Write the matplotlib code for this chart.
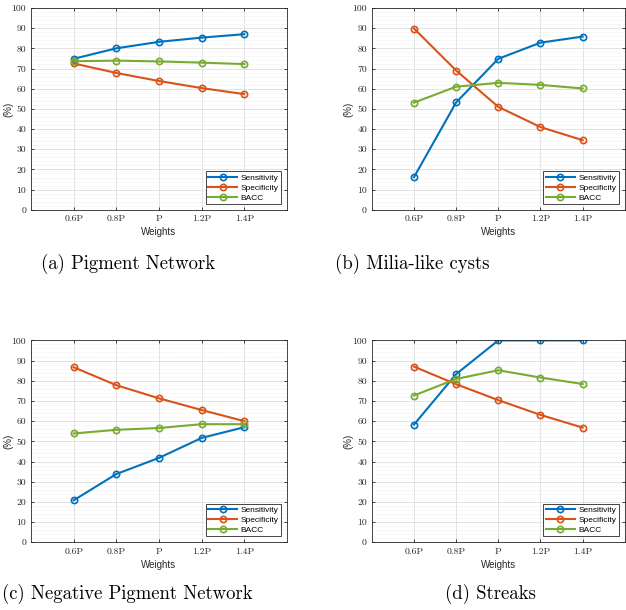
import numpy as np
import matplotlib
matplotlib.use("Agg")
import matplotlib.pyplot as plt
from matplotlib.ticker import MultipleLocator

# ---------------------------------------------------------------
# Data.
# ---------------------------------------------------------------
weights = ["0.6P", "0.8P", "P", "1.2P", "1.4P"]

sens_a = [74.8, 80.0, 83.2, 85.3, 87.0]
spec_a = [72.5, 67.8, 63.8, 60.3, 57.3]
bacc_a = [73.6, 73.9, 73.5, 72.9, 72.2]

sens_b = [16.2, 53.2, 74.8, 82.8, 85.8]
spec_b = [89.8, 69.0, 51.0, 41.0, 34.5]
bacc_b = [53.1, 61.0, 62.9, 61.9, 60.1]

sens_c = [20.8, 33.8, 41.8, 51.7, 57.0]
spec_c = [86.7, 77.8, 71.3, 65.5, 60.0]
bacc_c = [53.9, 55.7, 56.6, 58.5, 58.5]

sens_d = [58.3, 83.3, 100.0, 100.0, 100.0]
spec_d = [87.0, 78.3, 70.4, 63.1, 56.8]
bacc_d = [72.7, 80.9, 85.2, 81.6, 78.4]

captions = ["(a) Pigment Network", "(b) Milia-like cysts",
            "(c) Negative Pigment Network", "(d) Streaks"]

# MATLAB default colours
c_sens = "#0072BD"
c_spec = "#D95319"
c_bacc = "#77AC30"

serif = "cmr10"
sans = "Liberation Sans"

fig = plt.figure(figsize=(6.26, 6.10), dpi=100)

# axes boxes [left, bottom, width, height] in figure fraction
boxes = [
    [0.0495, 0.656, 0.409, 0.331],
    [0.594, 0.656, 0.404, 0.331],
    [0.0495, 0.111, 0.409, 0.331],
    [0.594, 0.111, 0.404, 0.331],
]
cap_pos = [(0.204, 0.568), (0.658, 0.568), (0.203, 0.027), (0.783, 0.027)]

panels = [(sens_a, spec_a, bacc_a), (sens_b, spec_b, bacc_b),
          (sens_c, spec_c, bacc_c), (sens_d, spec_d, bacc_d)]

x = np.arange(1, len(weights) + 1)

for box, (sens, spec, bacc), cap, cp in zip(boxes, panels, captions, cap_pos):
    ax = fig.add_axes(box)
    kw = dict(lw=1.5, marker="o", ms=4.5, mfc="none", mew=1.2)
    ax.plot(x, sens, color=c_sens, label="Sensitivity", **kw)
    ax.plot(x, spec, color=c_spec, label="Specificity", **kw)
    ax.plot(x, bacc, color=c_bacc, label="BACC", **kw)

    ax.set_xlim(0, 6)
    ax.set_ylim(0, 100)
    ax.set_xticks(x)
    ax.set_xticklabels(weights, fontfamily=serif, fontsize=7)
    ax.set_yticks(np.arange(0, 101, 10))
    ax.set_yticklabels([str(v) for v in range(0, 101, 10)], fontfamily=serif, fontsize=7)
    ax.yaxis.set_minor_locator(MultipleLocator(2))

    ax.grid(True, which="major", color="#e3e3e3", lw=0.7)
    ax.grid(True, which="minor", axis="y", color="#e0e0e0", lw=0.5, ls=(0, (1, 2)))
    ax.set_axisbelow(True)
    ax.tick_params(which="both", direction="in", length=2.5, width=0.6, colors="#262626",
                   top=True, right=True)
    ax.tick_params(which="minor", length=0)
    for s in ax.spines.values():
        s.set_color("#262626")
        s.set_linewidth(0.6)

    ax.set_xlabel("Weights", fontfamily=sans, fontsize=7, color="#262626", labelpad=3)
    ax.set_ylabel("(%)", fontfamily=sans, fontsize=7, color="#262626", labelpad=-1)

    leg = ax.legend(loc="lower right", prop={"family": sans, "size": 6},
                    fancybox=False, edgecolor="#262626", framealpha=1,
                    handlelength=3.5, borderpad=0.3, labelspacing=0.25,
                    handletextpad=0.4, borderaxespad=0.7)
    leg.get_frame().set_linewidth(0.6)

    fig.text(cp[0], cp[1], cap, fontfamily=serif, fontsize=13.5, ha="center", va="center")

fig.savefig("out.png", dpi=100)
